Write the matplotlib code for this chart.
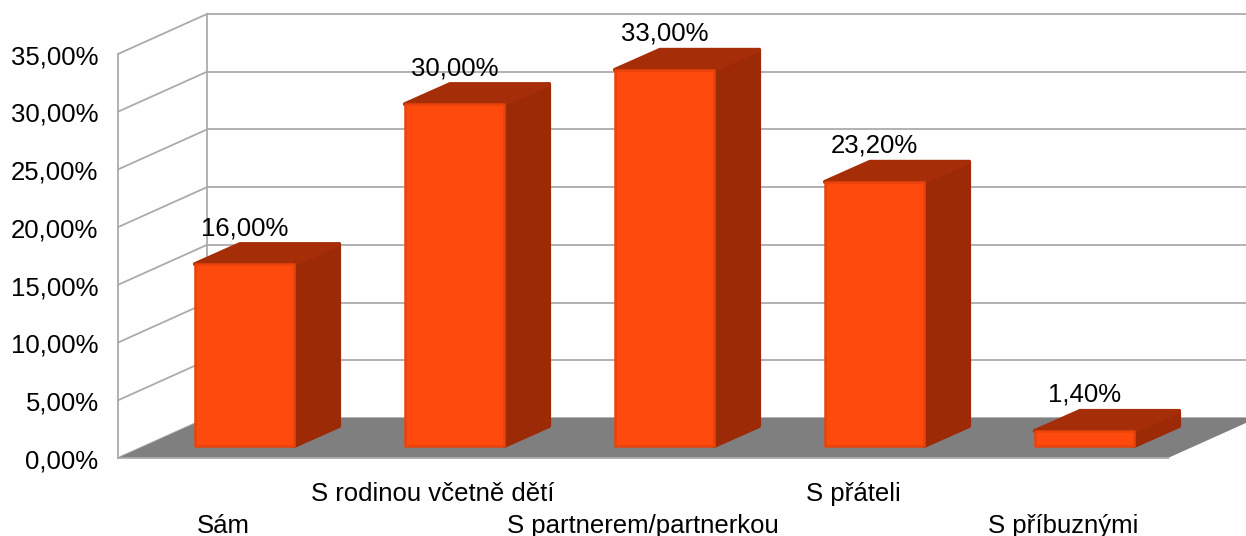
import matplotlib
matplotlib.use("Agg")
import matplotlib.pyplot as plt
from matplotlib.patches import Polygon
from matplotlib.transforms import ScaledTranslation

plt.rcParams["font.family"] = ["Liberation Sans", "DejaVu Sans"]

# data
categories = ["Sám", "S rodinou včetně dětí", "S partnerem/partnerkou", "S přáteli", "S příbuznými"]
values = [16.0, 30.0, 33.0, 23.2, 1.4]
value_labels = ["16,00%", "30,00%", "33,00%", "23,20%", "1,40%"]
y_ticks = [0, 5, 10, 15, 20, 25, 30, 35]
y_tick_labels = ["0,00%", "5,00%", "10,00%", "15,00%", "20,00%", "25,00%", "30,00%", "35,00%"]

# figure size in px and position of the front plane
W, H = 1246, 536
LEFT, RIGHT, TOP, BOTTOM = 118, 1168, 54, 458

fig = plt.figure(figsize=(W / 100, H / 100), dpi=100)
ax = fig.add_axes([LEFT / W, 1 - BOTTOM / H, (RIGHT - LEFT) / W, (BOTTOM - TOP) / H])
ax.set_xlim(-0.5, 4.5)
ax.set_ylim(0, 35)

# px to data units
ux = 1 / 210
uy = 35 / (BOTTOM - TOP)

GRID = "#ababab"
wall_dx, wall_dy = 89 * ux, 40 * uy
right_end = 4.5 + (W - RIGHT) * ux

# back wall + side wall grid
for v in y_ticks:
    ax.plot([-0.5, -0.5 + wall_dx], [v, v + wall_dy], color=GRID, lw=1.3, clip_on=False, zorder=1)
    ax.plot([-0.5 + wall_dx, right_end], [v + wall_dy, v + wall_dy], color=GRID, lw=1.3, clip_on=False, zorder=1)
ax.plot([-0.5 + wall_dx] * 2, [wall_dy, 35 + wall_dy], color=GRID, lw=1.3, clip_on=False, zorder=1)

# floor
floor = Polygon([(-0.5, 0), (-0.5 + wall_dx, wall_dy), (4.5 + wall_dx, wall_dy), (4.5, 0)],
                closed=True, facecolor="#7f7f7f", edgecolor="none", clip_on=False, zorder=2)
ax.add_patch(floor)

# bars
bar_w = 99 * ux
bar_dx, bar_dy = 45 * ux, 20 * uy
base_x, base_y = 21.5 * ux, 12 * uy

for i, v in enumerate(values):
    x0 = i + base_x - bar_w / 2
    x1 = x0 + bar_w
    y0 = base_y
    y1 = y0 + v * 0.99 - 1 * uy

    side = [(x1, y0), (x1 + bar_dx, y0 + bar_dy), (x1 + bar_dx, y1 + bar_dy), (x1, y1)]
    top = [(x0, y1), (x0 + bar_dx, y1 + bar_dy), (x1 + bar_dx, y1 + bar_dy), (x1, y1)]
    front = [(x0, y0), (x1, y0), (x1, y1), (x0, y1)]

    ax.add_patch(Polygon(side, closed=True, facecolor="#9c2a07", edgecolor="#9c2a07", lw=3,
                         joinstyle="round", clip_on=False, zorder=3 + i))
    ax.add_patch(Polygon(top, closed=True, facecolor="#a52d08", edgecolor="#a52d08", lw=3,
                         joinstyle="round", clip_on=False, zorder=3 + i))
    ax.add_patch(Polygon(front, closed=True, facecolor="#ff4a0e", edgecolor="#e8430d", lw=1.8,
                         joinstyle="round", clip_on=False, zorder=3 + i))

    ax.annotate(value_labels[i], xy=(i + base_x, y1), xytext=(0, 26), textcoords="offset points",
                ha="center", va="center", fontsize=18.5, color="black", zorder=20,
                annotation_clip=False)

# axes
ax.set_yticks(y_ticks)
ax.set_yticklabels(y_tick_labels, fontsize=18.5)
ax.set_xticks(range(len(categories)))
ax.set_xticklabels(categories, fontsize=18.5)
ax.tick_params(axis="both", length=0)
ax.tick_params(axis="y", pad=14)
for i, t in enumerate(ax.xaxis.get_major_ticks()):
    t.set_pad(40.5 if i % 2 == 0 else 17)

# y labels sit a touch lower than the grid
shift = ScaledTranslation(0, -0.5 / 72, fig.dpi_scale_trans)
for t in ax.get_yticklabels():
    t.set_transform(t.get_transform() + shift)

for s in ["top", "right"]:
    ax.spines[s].set_visible(False)
for s in ["left", "bottom"]:
    ax.spines[s].set_color(GRID)
    ax.spines[s].set_linewidth(1.3)
ax.patch.set_alpha(0)

fig.savefig("out.png", dpi=100)
